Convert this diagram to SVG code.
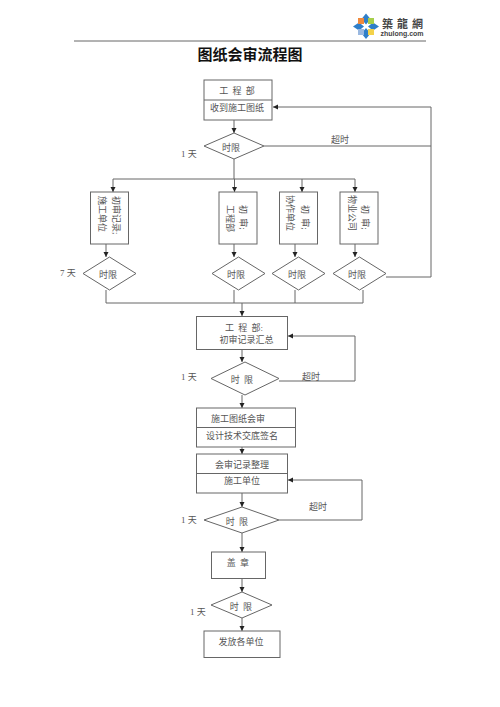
<svg xmlns="http://www.w3.org/2000/svg" width="500" height="707" viewBox="0 0 500 707">
<style>
text{font-family:"Liberation Serif","Noto Sans CJK SC",serif;font-size:9px;fill:#555;text-anchor:middle}
.n{fill:#fff;stroke:#666;stroke-width:1}
.c{fill:none;stroke:#666;stroke-width:1;marker-end:url(#a)}
.l{fill:none;stroke:#666;stroke-width:1}
.v{text-anchor:start}
.s{word-spacing:2px}
.t{font-family:"Noto Sans CJK SC",sans-serif;font-size:15px;font-weight:700;fill:#111}
</style>
<defs><marker id="a" markerUnits="userSpaceOnUse" markerWidth="6" markerHeight="6" refX="5" refY="2.500" orient="auto"><path d="M0 0L5 2.500L0 5z" fill="#222"/></marker></defs>
<rect width="500" height="707" fill="#fff"/>
<g id="logo">
<path d="M366 13.500L370.500 19L366 24.500L361.500 19z" fill="#2f7fc9"/><path d="M366 39L361.500 33.500L366 28L370.500 33.500z" fill="#2f7fc9"/>
<path d="M353 26.500L359 22.500L364 26.500L359 30.500z" fill="#2f7fc9"/><path d="M379 26.500L373 30.500L368 26.500L373 22.500z" fill="#2f7fc9"/>
<rect x="358" y="18" width="6" height="6" fill="#f08a3c"/><rect x="368" y="18" width="6" height="6" fill="#a6cf4a"/>
<rect x="358" y="29" width="6" height="6" fill="#9ab8e0"/><rect x="368" y="29" width="6" height="6" fill="#f4d24a"/>
<text x="404.500" y="27.500" style="font-family:'Noto Sans CJK TC',sans-serif;font-size:11px;font-weight:700;fill:#444;letter-spacing:4px">築龍網</text>
<text x="402" y="36" style="font-family:'Liberation Sans',sans-serif;font-size:7px;font-weight:700;fill:#444">zhulong.com</text>
</g>
<path id="rule" d="M74 41H426" stroke="#666" stroke-width="1" fill="none"/>
<text class="t" x="250" y="60">图纸会审流程图</text>
<g id="connectors">
<path class="c" d="M234 120V133"/>
<path class="l" d="M234 159V179"/>
<path class="c" d="M234.500 179V192"/>
<path class="l" d="M113 179H355"/>
<path class="c" d="M113 179V192"/><path class="c" d="M302 179V192"/><path class="c" d="M355 179V192"/>
<path class="c" d="M106 244V257"/><path class="c" d="M234 244V257"/><path class="c" d="M295 244V257"/><path class="c" d="M355 244V257"/>
<path class="l" d="M106 290V303H363V290"/><path class="l" d="M234 290V303"/><path class="l" d="M295 290V303"/>
<path class="c" d="M242 303V316"/>
<path class="c" d="M264 146H431V107H273"/>
<path class="l" d="M386 277H431V146"/>
<path class="c" d="M242 349V362"/>
<path class="c" d="M279 381H355V336H288"/>
<path class="c" d="M242 395V408"/>
<path class="c" d="M242 447V454"/>
<path class="c" d="M242 493V507"/>
<path class="c" d="M279 520H362V480H288"/>
<path class="c" d="M242 533V552"/>
<path class="c" d="M242 578V592"/>
<path class="c" d="M242 618V631"/>
</g>
<g id="n1"><rect class="n" x="204" y="80" width="68" height="40"/><path class="l" d="M204 100H272"/><text class="s" x="237" y="94">工 程 部</text><text x="237" y="111">收到施工图纸</text></g>
<g id="d1"><path class="n" d="M204 146L234 133L264 146L234 159z"/><text x="231" y="151">时限</text></g>
<text x="189" y="157">1 天</text>
<text x="340" y="143">超时</text>
<g id="b1"><rect class="n" x="90.500" y="192" width="38" height="52"/><text class="v" transform="translate(113 196) rotate(90)">初审记录;</text><text class="v" transform="translate(98.500 196) rotate(90)">施工单位</text></g>
<g id="b2"><rect class="n" x="219" y="192" width="38" height="52"/><text class="v s" transform="translate(239.500 205) rotate(90)">初 审;</text><text class="v" transform="translate(226.500 205) rotate(90)">工程部</text></g>
<g id="b3"><rect class="n" x="279.500" y="192" width="38" height="52"/><text class="v s" transform="translate(301.500 205) rotate(90)">初 审;</text><text class="v" transform="translate(286.500 195) rotate(90)">协作单位</text></g>
<g id="b4"><rect class="n" x="340" y="192" width="38" height="52"/><text class="v s" transform="translate(361.500 205) rotate(90)">初 审;</text><text class="v" transform="translate(348.500 195) rotate(90)">物业公司</text></g>
<g id="d2"><path class="n" d="M83 273.500L109.500 257L136 273.500L109.500 290z"/><text x="108" y="278">时限</text></g>
<g id="d3"><path class="n" d="M212 273.500L238.500 257L265 273.500L238.500 290z"/><text x="236" y="278">时限</text></g>
<g id="d4"><path class="n" d="M272 273.500L298.500 257L325 273.500L298.500 290z"/><text x="297" y="278">时限</text></g>
<g id="d5"><path class="n" d="M333 273.500L359.500 257L386 273.500L359.500 290z"/><text x="357" y="278">时限</text></g>
<text x="68" y="276">7 天</text>
<g id="n2"><rect class="n" x="196.500" y="316.500" width="91" height="33"/><text class="s" x="244" y="331">工 程 部:</text><text x="246.500" y="343">初审记录汇总</text></g>
<g id="d6"><path class="n" d="M211 378.500L245 362L279 378.500L245 395z"/><text class="s" x="242" y="383">时 限</text></g>
<text x="189" y="380">1 天</text>
<text x="311" y="380">超时</text>
<g id="n3"><rect class="n" x="196.500" y="408" width="99" height="39"/><path class="l" d="M196.500 427.500H295.500"/><text x="238" y="422">施工图纸会审</text><text x="242" y="439">设计技术交底签名</text></g>
<g id="n4"><rect class="n" x="196.500" y="454" width="91" height="39"/><path class="l" d="M196.500 473.500H287.500"/><text x="242" y="468">会审记录整理</text><text x="242" y="484">施工单位</text></g>
<g id="d7"><path class="n" d="M204 520L242 507L279 520L242 533z"/><text class="s" x="237" y="525">时 限</text></g>
<text x="189" y="523">1 天</text>
<text x="318" y="510">超时</text>
<g id="n5"><rect class="n" x="211.500" y="552" width="54" height="26.500"/><text class="s" x="238" y="566">盖 章</text></g>
<g id="d8"><path class="n" d="M211 605L242 592L272 605L242 618z"/><text class="s" x="241" y="610">时 限</text></g>
<text x="198" y="615">1 天</text>
<g id="n6"><rect class="n" x="204" y="631" width="76" height="26.500"/><text x="241" y="645">发放各单位</text></g>
</svg>
